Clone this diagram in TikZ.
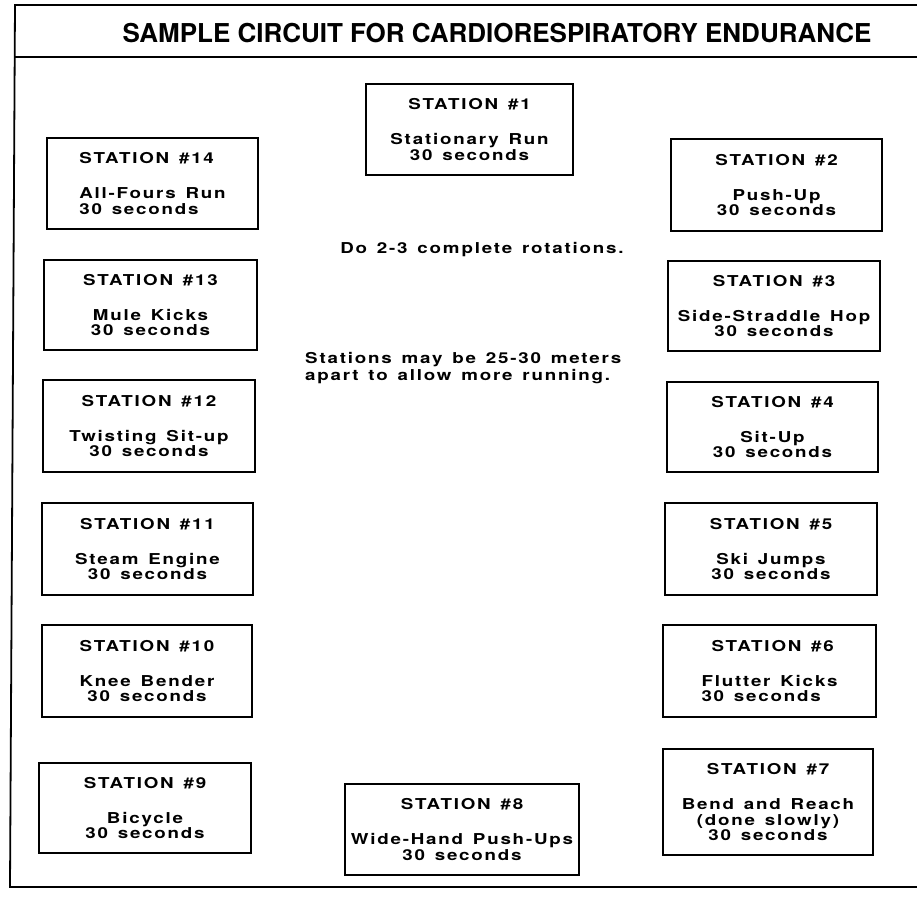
\documentclass[tikz,border=0pt]{standalone}
\usepackage{fontspec}
\setmainfont{TeX Gyre Heros}
\newfontfamily\stationfont[FakeStretch=1.25,LetterSpace=12,WordSpace=1.4]{TeX Gyre Heros}
\usepackage{tikz}
\tikzset{%
    station/.style={%
        draw, line width=1.8pt, inner sep=0pt, align=center,
        font=\stationfont\bfseries\fontsize{15}{15.5}\selectfont
    },
    note/.style={%
        inner sep=0pt, align=left,
        font=\stationfont\bfseries\fontsize{15}{17}\selectfont
    },
    frame/.style={line width=1.8pt}
}

\begin{document}
\begin{tikzpicture}[x=1pt,y=-1pt]
    \useasboundingbox (0,0) rectangle (917,898);
    % outer frame and title bar
    \draw[frame] (917,5)--(15,5)--(10,887)--(917,887);
    \draw[frame] (14,57)--(917,57);
    \node[font=\bfseries\fontsize{26}{30}\selectfont] (title) at (497,33) {SAMPLE CIRCUIT FOR CARDIORESPIRATORY ENDURANCE};
    % stations
    \node[station,minimum width=207pt,minimum height=91pt] (s1) at (469.5,129.5) {STATION \#1\\[19.5pt]Stationary Run\\30 seconds};
    \node[station,minimum width=211pt,minimum height=92pt] (s2) at (776.5,185) {STATION \#2\\[19.5pt]Push-Up\\30 seconds};
    \node[station,minimum width=212pt,minimum height=90pt] (s3) at (774,306) {STATION \#3\\[19.5pt]Side-Straddle Hop\\30 seconds};
    \node[station,minimum width=211pt,minimum height=90pt] (s4) at (772.5,427) {STATION \#4\\[19.5pt]Sit-Up\\30 seconds};
    \node[station,minimum width=212pt,minimum height=92pt] (s5) at (771,549) {STATION \#5\\[19.5pt]Ski Jumps\\30 seconds};
    \node[station,align=left,minimum width=213pt,minimum height=92pt] (s6) at (769.5,671) {\hspace*{10pt}STATION \#6\\[19.5pt]Flutter Kicks\\30 seconds};
    \node[station,minimum width=210pt,minimum height=106pt] (s7) at (768,802) {STATION \#7\\[19.5pt]Bend and Reach\\(done slowly)\\30 seconds};
    \node[station,minimum width=234pt,minimum height=91pt] (s8) at (462,829.5) {STATION \#8\\[19.5pt]Wide-Hand Push-Ups\\30 seconds};
    \node[station,minimum width=212pt,minimum height=90pt] (s9) at (145,808) {STATION \#9\\[19.5pt]Bicycle\\30 seconds};
    \node[station,minimum width=210pt,minimum height=92pt] (s10) at (147,671) {STATION \#10\\[19.5pt]Knee Bender\\30 seconds};
    \node[station,minimum width=211pt,minimum height=92pt] (s11) at (147.5,549) {STATION \#11\\[19.5pt]Steam Engine\\30 seconds};
    \node[station,minimum width=212pt,minimum height=92pt] (s12) at (149,426) {STATION \#12\\[19.5pt]Twisting Sit-up\\30 seconds};
    \node[station,minimum width=213pt,minimum height=90pt] (s13) at (150.5,305) {STATION \#13\\[19.5pt]Mule Kicks\\30 seconds};
    \node[station,align=left,minimum width=211pt,minimum height=91pt] (s14) at (152.5,183.5) {STATION \#14\\[19.5pt]All-Fours Run\\30 seconds};
    % remarks in the middle
    \node[note] (rotations) at (482,250) {Do 2-3 complete rotations.};
    \node[note,anchor=west] (spacing) at (305,368.5) {Stations may be 25-30 meters\\apart to allow more running.};
\end{tikzpicture}
\end{document}
